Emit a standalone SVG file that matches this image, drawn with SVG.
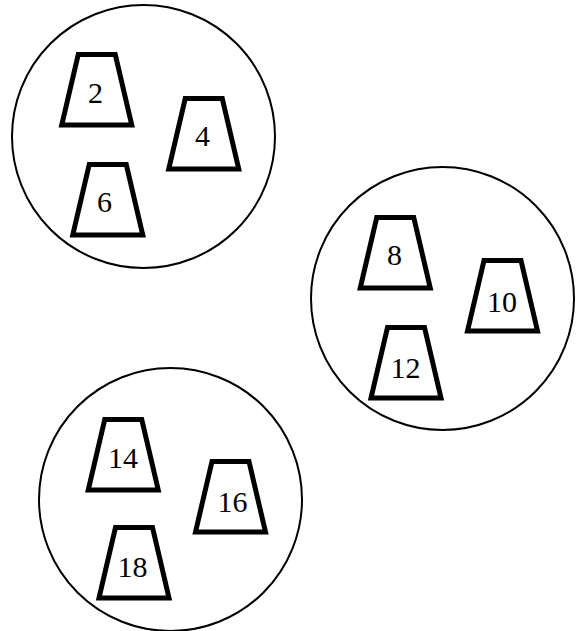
<svg xmlns="http://www.w3.org/2000/svg" xmlns:xlink="http://www.w3.org/1999/xlink" width="577" height="631" viewBox="0 0 577 631">
<style>
.grp{fill:#fff;stroke:#000;stroke-width:2}
.trap{fill:#fff;stroke:#000;stroke-width:5;stroke-linejoin:miter}
.lbl{font-family:"Liberation Serif","Times New Roman",serif;font-size:30px;fill:#000;text-anchor:middle}
</style>
<defs>
<path id="tp" class="trap" d="M-18.5,2.5 H18.5 L35,73 H-35 Z"/>
</defs>
<rect width="577" height="631" fill="#fff"/>
<g id="group1">
<circle class="grp" cx="143.5" cy="136.5" r="131.5"/>
<g id="n2"><use xlink:href="#tp" href="#tp" x="96.75" y="52"/><text class="lbl" x="95.5" y="103">2</text></g>
<g id="n4"><use xlink:href="#tp" href="#tp" x="203.75" y="96"/><text class="lbl" x="202.5" y="146">4</text></g>
<g id="n6"><use xlink:href="#tp" href="#tp" x="107.75" y="162"/><text class="lbl" x="104.5" y="212">6</text></g>
</g>
<g id="group2">
<circle class="grp" cx="442.5" cy="298.5" r="131.5"/>
<g id="n8"><use xlink:href="#tp" href="#tp" x="395.25" y="215"/><text class="lbl" x="394.5" y="265">8</text></g>
<g id="n10"><use xlink:href="#tp" href="#tp" x="502.5" y="258"/><text class="lbl" x="502" y="312">10</text></g>
<g id="n12"><use xlink:href="#tp" href="#tp" x="406" y="325"/><text class="lbl" x="405.5" y="378">12</text></g>
</g>
<g id="group3">
<circle class="grp" cx="170.5" cy="499.5" r="131.5"/>
<g id="n14"><use xlink:href="#tp" href="#tp" x="123.25" y="417"/><text class="lbl" x="123" y="468">14</text></g>
<g id="n16"><use xlink:href="#tp" href="#tp" x="230.5" y="459"/><text class="lbl" x="232.5" y="512">16</text></g>
<g id="n18"><use xlink:href="#tp" href="#tp" x="134" y="525"/><text class="lbl" x="132.5" y="577">18</text></g>
</g>
<g id="connectors"/>
</svg>
